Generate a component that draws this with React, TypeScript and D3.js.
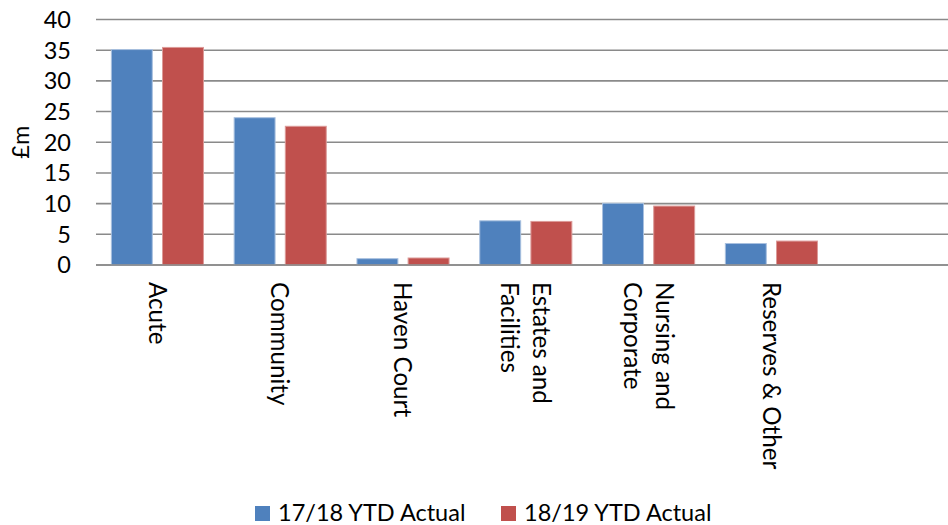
import React from "react";
import * as d3 from "d3";

// Spend by division, £m
const categories = ["Acute", "Community", "Haven Court", "Estates and\nFacilities", "Nursing and\nCorporate", "Reserves & Other", ""];
const seriesNames = ["17/18 YTD Actual", "18/19 YTD Actual"];
const actual1718 = [35.1, 24.0, 1.03, 7.2, 10.05, 3.5];
const actual1819 = [35.45, 22.6, 1.14, 7.1, 9.6, 3.9];
const yTicks = [0, 5, 10, 15, 20, 25, 30, 35, 40];
const yTitle = "£m";

const seriesValues = [actual1718, actual1819];
const fills = ["#4F81BD", "#C0504D"];
const strokes = ["#a8c0df", "#dc9a98"];

const W = 948;
const H = 525;
const FONT = "Lato, 'Open Sans', sans-serif";
const FS = 23.5;

export default function App() {
  // plot area runs a little past the right edge of the canvas
  const plot = { left: 96, right: 955.6, top: 19.5, bottom: 265 };

  const x = d3
    .scaleBand<number>()
    .domain(d3.range(categories.length))
    .range([plot.left, plot.right])
    .paddingInner(0)
    .paddingOuter(0);

  const xInner = d3
    .scaleBand<number>()
    .domain(d3.range(seriesNames.length))
    .range([0, x.bandwidth()])
    .paddingInner(0.2)
    .paddingOuter(0.3);

  const y = d3.scaleLinear().domain([0, 40]).range([plot.bottom, plot.top]);

  return (
    <svg
      width={W}
      height={H}
      style={{ position: "absolute", left: 0, top: 0, background: "#fff" }}
      fontFamily={FONT}
    >
      <rect x={0} y={0} width={W} height={H} fill="#fff" />
      {/* gridlines */}
      {yTicks.map((t) => (
        <line
          key={t}
          x1={plot.left}
          x2={plot.right}
          y1={y(t)}
          y2={y(t)}
          stroke="#8a8a8a"
          strokeWidth={1.6}
        />
      ))}
      {/* tick labels */}
      {yTicks.map((t) => (
        <text
          key={"l" + t}
          x={71}
          y={y(t)}
          dy="0.36em"
          textAnchor="end"
          fontSize={FS}
          fill="#000"
        >
          {t}
        </text>
      ))}
      <text
        transform={`translate(29,${(plot.top + plot.bottom) / 2}) rotate(-90)`}
        textAnchor="middle"
        fontSize={FS}
        fill="#000"
      >
        {yTitle}
      </text>
      {/* bars */}
      {seriesValues.map((vals, s) =>
        vals.map((v, i) => (
          <rect
            key={s + "-" + i}
            x={(x(i) as number) + (xInner(s) as number)}
            y={y(v)}
            width={xInner.bandwidth()}
            height={y(0) - y(v)}
            fill={fills[s]}
            stroke={strokes[s]}
            strokeWidth={1}
          />
        ))
      )}
      {/* baseline */}
      <line x1={plot.left} x2={plot.right} y1={y(0)} y2={y(0)} stroke="#8a8a8a" strokeWidth={1.6} />
      {/* category labels, rotated */}
      {categories.map((c, i) => {
        const lines = c.split("\n");
        const cx = (x(i) as number) + x.bandwidth() / 2;
        return (
          <text
            key={"c" + i}
            transform={`translate(${cx},282) rotate(90)`}
            textAnchor="start"
            fontSize={24.2}
            fill="#000"
          >
            {lines.map((ln, k) => (
              <tspan
                key={k}
                x={0}
                dy={k === 0 ? `${0.36 - 0.65 * (lines.length - 1)}em` : "1.3em"}
              >
                {ln}
              </tspan>
            ))}
          </text>
        );
      })}
      {/* legend */}
      {seriesNames.map((n, s) => {
        const lx = s === 0 ? 255 : 501;
        return (
          <g key={"lg" + s}>
            <rect x={lx} y={506} width={15} height={15} fill={fills[s]} />
            <text x={lx + 23} y={521} fontSize={FS} fill="#000">
              {n}
            </text>
          </g>
        );
      })}
    </svg>
  );
}
